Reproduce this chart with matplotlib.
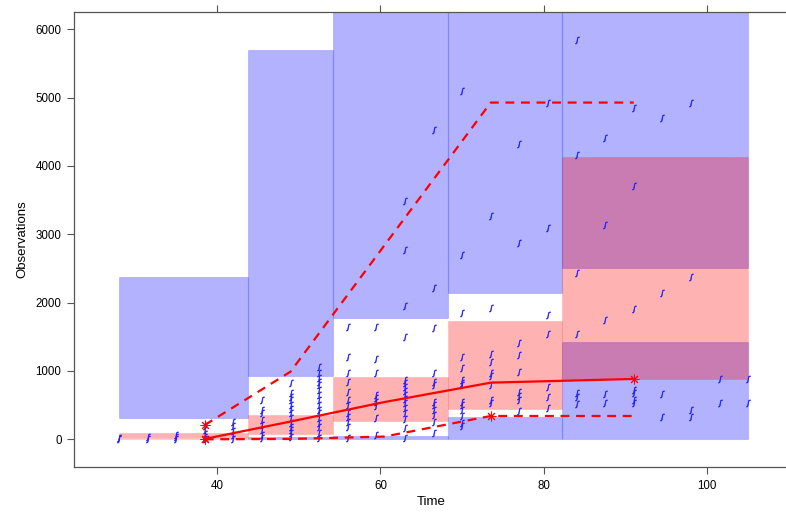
import numpy as np
import matplotlib.pyplot as plt

plt.rcParams['font.family'] = ['Liberation Sans', 'DejaVu Sans']

# 观测时间点及各时间点的观测值
times = [28, 31.5, 35, 38.5, 42, 45.5, 49, 52.5, 56, 59.5, 63, 66.5,
         70, 73.5, 77, 80.5, 84, 87.5, 91, 94.5, 98, 101.5, 105]
obs_values = [
    [0, 20],
    [0, 30],
    [10, 40, 70],
    [0, 40, 80, 130, 200],
    [10, 60, 120, 190, 250],
    [15, 63, 136, 210, 283, 380, 430, 575],
    [29, 88, 136, 184, 243, 307, 380, 439, 502, 575, 624, 673, 829],
    [15, 88, 184, 243, 307, 380, 429, 502, 575, 649, 722, 795, 843, 893, 966, 1063],
    [15, 184, 258, 331, 380, 502, 575, 697, 843, 966, 1209, 1649],
    [63, 307, 488, 551, 600, 649, 966, 1171, 1649],
    [15, 161, 293, 380, 454, 527, 586, 649, 712, 770, 829, 868, 1493, 1952, 2772, 3489],
    [97, 258, 356, 429, 502, 551, 795, 843, 966, 1625, 2211, 4528],
    [195, 243, 341, 429, 502, 551, 795, 829, 868, 1039, 1209, 1845, 2698, 5100],
    [527, 575, 795, 927, 975, 1136, 1249, 1918, 3269],
    [419, 575, 634, 688, 981, 1234, 1414, 2878, 4323],
    [454, 624, 770, 1537, 1820, 3089, 4928],
    [517, 624, 682, 1537, 2439, 4162, 5846],
    [536, 663, 1747, 3138, 4407],
    [527, 575, 673, 722, 1903, 3713, 4846],
    [331, 663, 2147, 4700],
    [331, 429, 2381, 4919],
    [536, 878],
    [536, 878],
]

# 分箱边界与模拟百分位数的置信区间
bin_left = [28, 43.75, 54.25, 68.25, 82.25]
bin_right = [43.75, 54.25, 68.25, 82.25, 105]
lo_ci_low = [0, 0, 0, 10, 10]
lo_ci_high = [8, 30, 50, 322, 1429]
med_ci_low = [25, 78, 272, 439, 883]
med_ci_high = [90, 356, 908, 1737, 4138]
hi_ci_low = [307, 931, 1771, 2147, 2500]
hi_ci_high = [2381, 5700, 6600, 6600, 6600]

# 观测数据的百分位数（中位数、5%、95%）
obs_x = [38.5, 49, 60.5, 73.5, 91]
obs_median = [5, 260, 545, 829, 883]
obs_lo = [0, 5, 40, 341, 341]
obs_hi = [209, 990, 2840, 4928, 4928]
flag_median = [True, False, False, False, True]
flag_lo = [True, False, False, True, False]
flag_hi = [True, False, False, False, False]


def main():
    fig = plt.figure(figsize=(7.86, 5.13), dpi=100)
    ax = fig.add_axes([74 / 786, 45.7 / 513, 715 / 786, 455.6 / 513])

    blue = (0, 0, 1, 0.3)
    red = (1, 0, 0, 0.3)
    # 蓝色：5%和95%分位数的置信区间
    for i in range(len(bin_left)):
        w = bin_right[i] - bin_left[i]
        for lo, hi in [(lo_ci_low[i], lo_ci_high[i]), (hi_ci_low[i], hi_ci_high[i])]:
            ax.add_patch(plt.Rectangle((bin_left[i], lo), w, hi - lo,
                                       facecolor=blue, edgecolor=(0, 0, 1, 0.15),
                                       linewidth=0.8, zorder=1))
    # 粉色：中位数的置信区间
    for i in range(len(bin_left)):
        w = bin_right[i] - bin_left[i]
        ax.add_patch(plt.Rectangle((bin_left[i], med_ci_low[i]), w,
                                   med_ci_high[i] - med_ci_low[i],
                                   facecolor=red, edgecolor=(1, 0, 0, 0.1),
                                   linewidth=0.8, zorder=2))

    # 观测点
    xs, ys = [], []
    for t, vals in zip(times, obs_values):
        xs += [t] * len(vals)
        ys += vals
    ax.scatter(xs, ys, marker='$ʃ$', s=26, color='#2020ff',
               edgecolors='#2020ff', linewidths=0.4, zorder=3)

    # 观测百分位数曲线
    ax.plot(obs_x, obs_median, color='red', lw=1.6, zorder=4)
    ax.plot(obs_x, obs_lo, color='red', lw=1.6, ls=(0, (4, 3)), zorder=4)
    ax.plot(obs_x, obs_hi, color='red', lw=1.6, ls=(0, (4, 3)), zorder=4)
    for vals, flags in [(obs_median, flag_median), (obs_lo, flag_lo), (obs_hi, flag_hi)]:
        fx = [x for x, f in zip(obs_x, flags) if f]
        fy = [y for y, f in zip(vals, flags) if f]
        ax.plot(fx, fy, ls='none', marker=(8, 2, 0), ms=7, mew=0.7,
                color='red', zorder=5)

    ax.set_xlim(22.5, 110)
    ax.set_ylim(-410, 6258)
    ax.set_xticks([40, 60, 80, 100])
    ax.set_yticks([0, 1000, 2000, 3000, 4000, 5000, 6000])
    ax.spines['right'].set_visible(False)
    for s in ['left', 'bottom', 'top']:
        ax.spines[s].set_color('#555555')
        ax.spines[s].set_linewidth(0.9)
    ax.tick_params(axis='both', direction='out', length=5, width=0.8,
                   color='#555555', labelsize=8.3, pad=4)
    ax.tick_params(axis='x', top=True)
    ax.set_xlabel('Time', fontsize=9.5, labelpad=3)
    ax.set_ylabel('Observations', fontsize=9.5, labelpad=5)

    fig.savefig('out.png', dpi=100)


if __name__ == "__main__":
    main()
